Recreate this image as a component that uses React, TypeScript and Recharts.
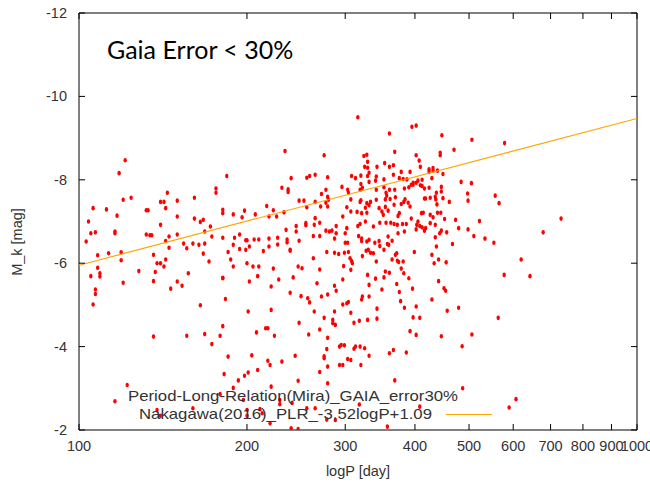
import { ScatterChart, Scatter, XAxis, YAxis, ReferenceArea } from 'recharts';

// period ticks on the log axis, magnitude ticks (brighter is up)
const periodTicks = [100, 200, 300, 400, 500, 600, 700, 800, 900, 1000];
const magTicks = [-12, -10, -8, -6, -4, -2];

// Nakagawa (2016) PLR: M_K = -3.52 logP + 1.09, evaluated at the axis ends
const fitLine = [
    { period: 100, mag: -5.95 },
    { period: 1000, mag: -9.47 },
];

// [period (day), M_K (mag)] for the Gaia-selected Miras
const miraStars: [number, number][] = [
    [121, -8.47], [118, -8.16], [184, -8.09], [176, -7.79], [176, -7.69], [144, -7.69], [124, -7.57], [120, -7.52],
    [161, -7.57], [140, -7.47], [142, -7.47], [150, -7.5], [106, -7.32], [112, -7.29], [143, -7.32], [132, -7.27],
    [133, -7.27], [117, -7.14], [150, -7.12], [181, -7.28], [181, -7.2], [189, -7.17], [198, -7.26], [207, -7.17],
    [196, -7.1], [217, -7.37], [223, -7.27], [219, -7.12], [226, -7.12], [104, -7.0], [161, -7.07], [167, -7.04],
    [165, -6.99], [140, -6.92], [172, -6.88], [107, -6.74], [116, -6.76], [116, -6.72], [105, -6.72], [132, -6.69],
    [134, -6.67], [135, -6.67], [150, -6.69], [168, -6.76], [145, -6.64], [173, -6.64], [181, -6.61], [190, -6.61],
    [194, -6.69], [199, -6.55], [200, -6.55], [206, -6.57], [210, -6.57], [227, -6.61], [219, -6.59], [227, -6.45],
    [219, -6.4], [189, -6.44], [202, -6.4], [199, -6.32], [194, -6.34], [214, -6.29], [154, -6.47], [156, -6.36],
    [160, -6.47], [164, -6.44], [168, -6.47], [145, -6.37], [143, -6.53], [136, -6.2], [108, -6.19], [113, -6.24],
    [119, -6.26], [119, -6.07], [185, -6.27], [167, -6.23], [103, -6.52], [138, -6.0], [140, -6.0], [142, -5.92],
    [143, -6.09], [171, -6.04], [187, -6.09], [200, -6.0], [189, -5.92], [205, -5.92], [210, -5.92], [223, -5.87],
    [108, -5.89], [128, -5.81], [137, -5.79], [157, -5.76], [109, -5.76], [109, -5.68], [105, -5.69], [181, -5.65],
    [209, -5.69],
    [120, -5.53], [136, -5.57], [146, -5.39], [150, -5.56], [153, -5.46], [107, -5.37], [107, -5.26], [106, -5.01],
    [181, -5.64], [202, -5.56], [221, -5.44], [228, -5.61], [242, -5.66], [267, -5.52], [239, -5.29], [250, -5.21],
    [257, -5.16], [259, -5.06], [272, -5.2], [279, -5.25], [183, -5.14], [165, -4.99], [201, -4.84], [221, -4.88],
    [264, -4.84], [275, -4.69], [248, -4.57], [270, -4.41], [258, -4.29], [279, -4.21], [208, -4.34], [216, -4.44],
    [218, -4.44], [224, -4.26], [181, -4.49], [179, -4.26], [173, -4.06], [168, -4.3], [156, -4.26], [136, -4.24],
    [185, -3.76], [204, -3.79], [218, -3.66], [220, -3.56], [231, -3.64], [244, -3.78], [278, -3.94], [275, -3.72],
    [275, -3.77], [279, -3.52], [270, -3.39], [247, -3.18], [221, -3.04], [209, -3.44], [201, -3.38], [198, -3.3],
    [193, -3.19], [189, -3.01], [182, -3.34], [179, -2.86], [122, -3.08], [116, -2.69], [138, -2.48], [140, -2.34],
    [160, -2.52], [197, -2.72], [200, -2.48], [200, -2.34], [211, -2.5], [220, -2.16], [229, -2.72], [229, -2.62],
    [240, -2.04], [247, -2.02], [256, -2.52], [265, -2.52], [213, -2.4],
    [316, -9.5], [360, -9.11], [234, -8.69], [275, -8.59], [324, -8.57], [328, -8.6], [329, -8.43], [325, -8.31],
    [329, -8.29], [342, -8.31], [353, -8.4], [331, -8.17], [320, -8.1], [329, -8.09], [341, -8.08], [240, -8.04],
    [256, -8.05], [259, -8.09], [265, -8.12], [279, -8.06], [308, -8.09], [313, -8.04], [320, -7.9], [331, -7.95],
    [340, -7.98], [231, -7.81], [237, -7.77], [237, -7.71], [296, -7.83], [277, -7.76], [303, -7.76], [304, -7.69],
    [319, -7.76], [322, -7.81], [341, -7.76], [352, -7.82], [355, -7.69], [248, -7.5], [253, -7.5], [265, -7.47],
    [272, -7.66], [279, -7.59], [280, -7.52], [277, -7.45], [307, -7.53], [319, -7.47], [320, -7.51], [328, -7.44],
    [331, -7.39], [333, -7.47], [341, -7.52], [354, -7.53], [354, -7.35], [256, -7.34], [271, -7.36], [279, -7.36],
    [302, -7.34], [326, -7.33], [345, -7.32],
    [395, -9.27], [402, -9.3], [447, -9.07], [506, -8.96], [368, -8.67], [444, -8.65], [444, -8.59], [470, -8.72],
    [402, -8.59], [407, -8.46], [360, -8.31], [366, -8.35], [409, -8.31], [366, -8.12], [378, -8.19], [392, -8.19],
    [424, -8.25], [424, -8.19], [431, -8.28], [431, -8.22], [439, -8.22], [449, -8.14], [352, -8.01], [375, -8.04],
    [381, -8.02], [387, -8.01], [397, -7.93], [402, -7.93], [394, -7.88], [397, -7.88], [405, -7.98], [412, -8.0],
    [429, -8.04], [484, -7.95], [505, -7.92], [360, -7.76], [368, -7.76], [356, -7.62], [383, -7.79], [390, -7.82],
    [409, -7.87], [412, -7.85], [416, -7.79], [424, -7.81], [446, -7.83], [446, -7.72], [437, -7.69], [361, -7.54],
    [369, -7.58], [384, -7.53], [389, -7.45], [416, -7.55], [418, -7.55], [426, -7.57], [435, -7.59], [436, -7.53],
    [449, -7.56], [461, -7.47], [497, -7.67], [498, -7.5], [367, -7.4], [378, -7.42], [382, -7.47], [392, -7.36],
    [438, -7.41],
    [579, -8.88], [557, -7.62], [566, -7.44], [731, -7.07], [554, -6.49], [679, -6.74], [620, -6.09],
    [349, -7.24], [358, -7.26], [351, -7.16], [233, -7.22], [297, -7.12], [307, -7.24], [315, -7.23], [321, -7.2],
    [328, -7.21], [245, -6.89], [245, -6.76], [255, -6.96], [255, -6.91], [265, -7.08], [264, -6.92], [270, -6.97],
    [289, -6.89], [302, -6.84], [300, -6.72], [316, -6.89], [319, -6.94], [326, -7.0], [337, -6.88], [346, -6.97],
    [355, -6.97], [235, -6.8], [277, -6.78], [281, -6.76], [284, -6.78], [289, -6.72], [263, -6.65], [270, -6.65],
    [236, -6.57], [236, -6.5], [248, -6.54], [287, -6.59], [300, -6.49], [303, -6.49], [317, -6.65], [321, -6.59],
    [321, -6.53], [328, -6.52], [331, -6.56], [339, -6.49], [345, -6.53], [346, -6.41], [358, -6.64], [357, -6.46],
    [239, -6.32], [239, -6.3], [278, -6.27], [287, -6.25], [292, -6.22], [299, -6.25], [304, -6.27], [327, -6.3],
    [330, -6.32], [333, -6.25], [337, -6.24], [352, -6.32], [306, -6.12], [308, -6.05], [309, -6.0], [322, -6.17],
    [341, -6.04], [298, -5.93], [307, -5.84], [247, -5.92], [251, -5.88], [270, -5.85], [354, -5.8], [352, -5.66],
    [297, -5.61], [329, -5.72], [340, -5.63], [349, -5.37], [331, -5.48], [331, -5.2], [322, -5.2], [289, -5.34],
    [263, -6.12],
    [375, -7.2], [373, -7.13], [411, -7.2], [414, -7.21], [426, -7.16], [431, -7.1], [439, -7.21], [445, -7.21],
    [394, -7.07], [452, -7.06], [473, -7.04], [522, -7.01], [362, -6.97], [367, -6.94], [372, -6.92], [380, -6.94],
    [386, -6.94], [405, -7.0], [403, -6.92], [408, -6.89], [412, -6.86], [416, -6.78], [418, -6.84], [426, -6.96],
    [435, -6.92], [402, -6.81], [383, -6.76], [373, -6.72], [446, -6.78], [443, -6.72], [456, -6.74], [479, -6.84],
    [498, -6.81], [510, -6.65], [534, -6.59], [435, -6.62], [364, -6.54], [359, -6.44], [437, -6.4], [467, -6.46],
    [399, -6.27], [371, -6.24], [369, -6.2], [429, -6.2], [364, -6.09], [372, -6.06], [374, -6.03], [381, -6.04],
    [441, -6.09], [433, -6.0], [455, -6.02], [378, -5.87], [382, -5.76], [360, -5.77], [390, -5.64], [441, -5.57],
    [371, -5.5], [375, -5.31], [396, -5.39], [451, -5.4], [454, -5.34], [429, -5.13],
    [578, -5.72], [643, -5.69], [564, -4.69], [506, -4.29], [486, -4.01], [479, -4.93], [457, -4.86], [446, -4.25],
    [402, -4.96], [397, -4.7], [408, -4.69], [402, -4.28], [392, -4.37], [386, -3.86], [366, -3.92], [360, -3.84],
    [368, -3.19], [383, -4.93], [377, -5.09], [342, -4.91], [342, -4.67], [329, -4.64], [331, -3.78], [321, -5.13],
    [325, -3.96], [319, -4.0], [311, -4.57], [318, -4.62], [307, -4.81], [307, -3.68], [303, -3.7], [311, -3.95],
    [313, -4.0], [320, -3.56], [297, -3.56], [293, -3.56], [299, -4.03], [293, -4.0], [295, -4.04], [287, -4.84],
    [285, -4.64], [285, -4.56], [297, -5.01], [304, -5.07], [302, -5.04], [279, -3.12], [487, -3.0], [590, -2.54],
    [607, -2.74], [408, -2.56], [357, -2.08], [318, -2.61], [288, -2.24], [288, -4.52], [287, -5.46], [278, -2.25],
    [241, -2.65],
];

const starData = miraStars.map(([period, mag]) => ({ period, mag }));

// plot frame in page pixels
const FRAME = { left: 79, right: 637, top: 13, bottom: 430 };
const TICK_LEN = 6;
const tickFont = { fontFamily: '"Liberation Sans", Arial, sans-serif', fontSize: 14.5, fill: '#333' };

function PeriodTick(props: any) {
    const { x, payload } = props;
    return (
        <g>
            <line x1={x} x2={x} y1={FRAME.bottom} y2={FRAME.bottom - TICK_LEN} stroke="#000" />
            <line x1={x} x2={x} y1={FRAME.top} y2={FRAME.top + TICK_LEN} stroke="#000" />
            <text x={x} y={446} textAnchor="middle" dominantBaseline="central" {...tickFont}>
                {payload.value}
            </text>
        </g>
    );
}

function MagTick(props: any) {
    const { y, payload } = props;
    return (
        <g>
            <line x1={FRAME.left} x2={FRAME.left + TICK_LEN} y1={y} y2={y} stroke="#000" />
            <line x1={FRAME.right} x2={FRAME.right - TICK_LEN} y1={y} y2={y} stroke="#000" />
            <text x={67} y={y} textAnchor="end" dominantBaseline="central" {...tickFont}>
                {payload.value}
            </text>
        </g>
    );
}

function StarDot(props: any) {
    const { cx, cy } = props;
    if (cx == null || cy == null) return <g />;
    return <ellipse cx={cx} cy={cy} rx={1.7} ry={2.3} fill="#ff0000" />;
}

export default function App() {
    return (
        <div style={{ position: 'absolute', left: 0, top: 0, width: 650, height: 492, background: '#fff' }}>
            <ScatterChart width={650} height={492} margin={{ top: 13, right: 13, left: 0, bottom: 0 }}>
                <XAxis
                    dataKey="period"
                    type="number"
                    scale="log"
                    domain={[100, 1000]}
                    ticks={periodTicks}
                    allowDataOverflow
                    height={62}
                    axisLine={false}
                    tickLine={false}
                    tick={<PeriodTick />}
                    interval={0}
                />
                <YAxis
                    dataKey="mag"
                    type="number"
                    domain={[-12, -2]}
                    reversed
                    ticks={magTicks}
                    allowDataOverflow
                    width={79}
                    axisLine={false}
                    tickLine={false}
                    tick={<MagTick />}
                    interval={0}
                />
                <ReferenceArea x1={100} x2={1000} y1={-12} y2={-2} fill="none" stroke="#000" strokeWidth={1} />
                <Scatter data={starData} shape={<StarDot />} isAnimationActive={false} />
                <Scatter
                    data={fitLine}
                    line={{ stroke: '#ffa500', strokeWidth: 1.2 }}
                    shape={() => <g />}
                    isAnimationActive={false}
                />
            </ScatterChart>
            <svg
                width={650}
                height={492}
                style={{ position: 'absolute', left: 0, top: 0, pointerEvents: 'none' }}
            >
                <text x={107} y={59} fontFamily="Lato, 'Open Sans', sans-serif" fontSize={25} fill="#000">
                    Gaia Error &lt; 30%
                </text>
                <text x={358} y={471} textAnchor="middle" dominantBaseline="central" {...tickFont}>
                    logP [day]
                </text>
                <text
                    transform="translate(17,242) rotate(-90)"
                    textAnchor="middle"
                    dominantBaseline="central"
                    {...tickFont}
                >
                    M_k [mag]
                </text>
                <text x={128} y={396} dominantBaseline="central" textLength={330} lengthAdjust="spacingAndGlyphs" {...tickFont}>
                    Period-Long-Relation(Mira)_GAIA_error30%
                </text>
                <text x={139} y={414} dominantBaseline="central" textLength={293} lengthAdjust="spacingAndGlyphs" {...tickFont}>
                    Nakagawa(2016)_PLR_-3.52logP+1.09
                </text>
                <line x1={446} x2={492} y1={414.5} y2={414.5} stroke="#ffa500" strokeWidth={1.2} />
            </svg>
        </div>
    );
}
